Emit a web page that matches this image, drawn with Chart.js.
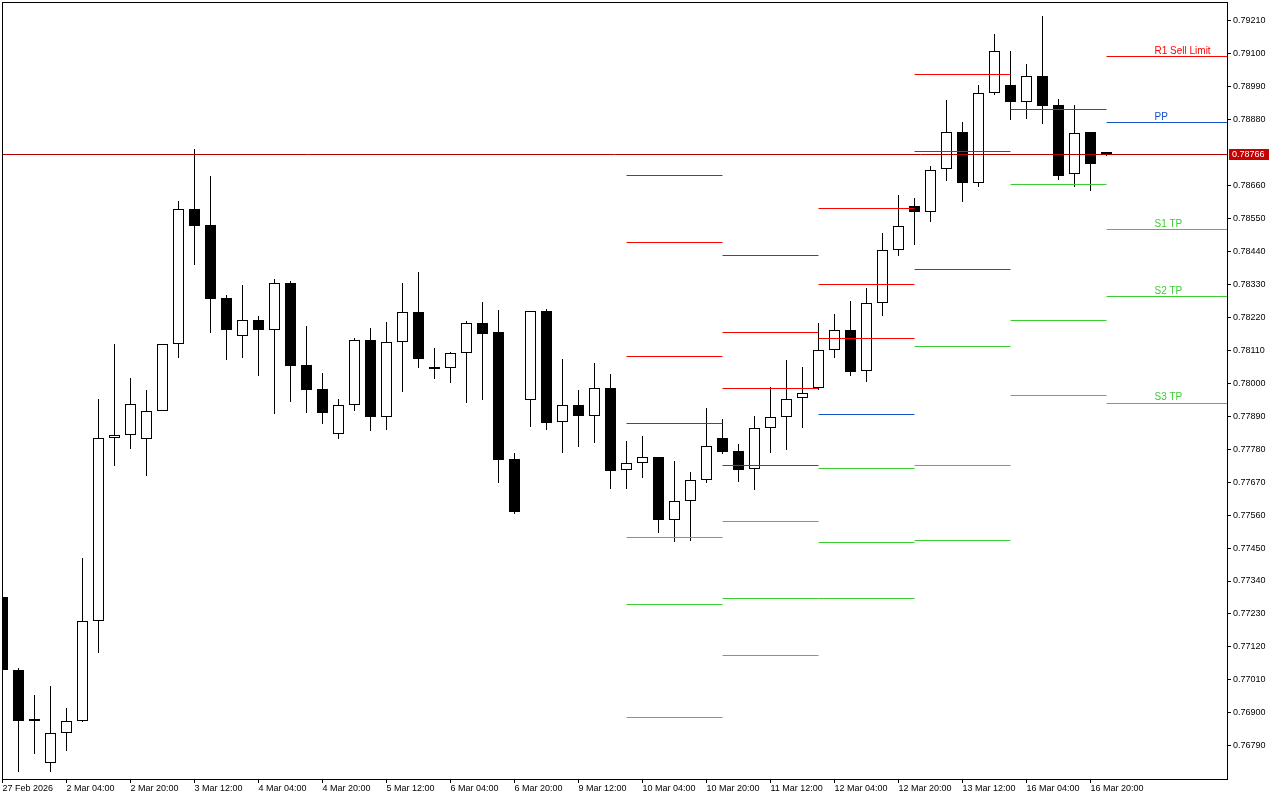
<!DOCTYPE html>
<html>
<head>
<meta charset="utf-8">
<title>H4 chart</title>
<style>
  html, body { margin: 0; padding: 0; background: #fff; overflow: hidden; }
  #wrap { width: 1280px; height: 800px; position: relative; }
</style>
</head>
<body>
<div id="wrap"><canvas id="myChart"></canvas></div>
<script src="https://cdn.jsdelivr.net/npm/chart.js@4.4.1/dist/chart.umd.min.js"></script>
<script>
// setup 
const opens  = [0.77285,0.77044,0.76874,0.76731,0.76834,0.76874,0.77208,0.77818,0.77826,0.77813,
                0.77909,0.78130,0.78580,0.78527,0.78285,0.78159,0.78210,0.78179,0.78336,0.78061,
                0.77981,0.77830,0.77926,0.78143,0.77888,0.78137,0.78237,0.78050,0.78050,0.78100,
                0.78200,0.78170,0.77746,0.77945,0.78240,0.77870,0.77926,0.77890,0.77983,0.77710,
                0.77733,0.77753,0.77545,0.77606,0.77676,0.77816,0.77773,0.77713,0.77850,0.77886,
                0.77950,0.77983,0.78110,0.78177,0.78040,0.78267,0.78444,0.78592,0.78571,0.78714,
                0.78838,0.78669,0.78968,0.78994,0.78940,0.79024,0.78928,0.78697,0.78838,0.78768];
const highs  = [0.77290,0.77048,0.76959,0.76988,0.76915,0.77416,0.77946,0.78130,0.78017,0.77978,
                0.78132,0.78607,0.78781,0.78691,0.78296,0.78328,0.78226,0.78347,0.78341,0.78190,
                0.78034,0.77947,0.78151,0.78184,0.78204,0.78335,0.78371,0.78118,0.78104,0.78208,
                0.78271,0.78244,0.77766,0.78242,0.78247,0.78081,0.77978,0.78068,0.78031,0.77806,
                0.77824,0.77755,0.77741,0.77703,0.77916,0.77880,0.77796,0.77890,0.77987,0.78078,
                0.78054,0.78201,0.78231,0.78275,0.78318,0.78501,0.78628,0.78618,0.78725,0.78945,
                0.78872,0.78994,0.79166,0.79109,0.79066,0.79226,0.78949,0.78929,0.78840,0.78771];
const lows   = [0.77040,0.76703,0.76764,0.76703,0.76772,0.76870,0.77100,0.77724,0.77781,0.77692,
                0.77907,0.78085,0.78396,0.78168,0.78078,0.78085,0.78025,0.77898,0.77938,0.77901,
                0.77865,0.77815,0.77908,0.77842,0.77845,0.77972,0.78052,0.78015,0.78002,0.77935,
                0.77945,0.77668,0.77565,0.77855,0.77845,0.77768,0.77788,0.77802,0.77646,0.77648,
                0.77685,0.77501,0.77471,0.77475,0.77668,0.77765,0.77672,0.77645,0.77768,0.77778,
                0.77852,0.77977,0.78085,0.78025,0.78005,0.78226,0.78426,0.78461,0.78539,0.78676,
                0.78606,0.78656,0.78962,0.78880,0.78883,0.78866,0.78679,0.78656,0.78643,0.78760];
const closes = [0.77044,0.76874,0.76874,0.76834,0.76874,0.77205,0.77818,0.77826,0.77932,0.77906,
                0.78130,0.78582,0.78525,0.78281,0.78179,0.78210,0.78179,0.78336,0.78058,0.77979,
                0.77902,0.77926,0.78143,0.77888,0.78137,0.78237,0.78082,0.78048,0.78100,0.78200,
                0.78165,0.77745,0.77571,0.78240,0.77868,0.77926,0.77892,0.77983,0.77706,0.77733,
                0.77753,0.77545,0.77606,0.77676,0.77790,0.77772,0.77712,0.77850,0.77886,0.77946,
                0.77966,0.78110,0.78177,0.78039,0.78267,0.78444,0.78524,0.78573,0.78711,0.78838,
                0.78669,0.78968,0.79108,0.78940,0.79024,0.78926,0.78693,0.78834,0.78733,0.78766];

// time axis: one label every 4 bars (H4)
const tickLabels = ['27 Feb 2026','2 Mar 04:00','2 Mar 20:00','3 Mar 12:00','4 Mar 04:00','4 Mar 20:00',
                    '5 Mar 12:00','6 Mar 04:00','6 Mar 20:00','9 Mar 12:00','10 Mar 04:00','10 Mar 20:00',
                    '11 Mar 12:00','12 Mar 04:00','12 Mar 20:00','13 Mar 12:00','16 Mar 04:00','16 Mar 20:00'];
const tickStep = 4;
const priceTicks = [0.79210,0.79100,0.78990,0.78880,0.78660,0.78550,0.78440,0.78330,0.78220,0.78110,
                    0.78000,0.77890,0.77780,0.77670,0.77560,0.77450,0.77340,0.77230,0.77120,0.77010,
                    0.76900,0.76790];

// daily pivots (first bar of each day)
const dayStarts = [39, 45, 51, 57, 63, 69];
const pivotR3 = [0.78692, 0.78425, 0.78582, null,    null,    null];
const pivotR2 = [0.78471, 0.78171, 0.78331, 0.79029, null,    null];
const pivotR1 = [0.78088, 0.77981, 0.78151, 0.78775, null,    0.79089];
const pivotPP = [0.77867, 0.77727, 0.77897, 0.78378, 0.78912, 0.78869];
const pivotS1 = [0.77484, 0.77537, 0.77717, 0.78124, 0.78662, 0.78512];
const pivotS2 = [0.77263, 0.77283, 0.77467, 0.77727, 0.78211, 0.78288];
const pivotS3 = [0.76883, 0.77093, 0.77283, 0.77474, 0.77958, 0.77934];
const levelNames  = ['R3', 'R2', 'R1 Sell Limit', 'PP', 'S1 TP', 'S2 TP', 'S3 TP'];
const levelColors = ['#FF0000', '#FF0000', '#FF0000', '#1450C8', '#3CCD32', '#3CCD32', '#3CCD32'];
const pivotLevels = [pivotR3, pivotR2, pivotR1, pivotPP, pivotS1, pivotS2, pivotS3];

// visible window
const X_MIN = -0.03125, X_MAX = 76.53125;
const Y_MIN = 0.766792, Y_MAX = 0.792724;

Chart.defaults.font.family = '"Liberation Sans", Arial, sans-serif';
Chart.defaults.font.size = 9;
Chart.defaults.color = '#000';

function pivotPoints(levels) {
  const pts = [];
  levels.forEach((v, d) => {
    if (v === null) return;
    const end = d + 1 < dayStarts.length ? dayStarts[d + 1] : X_MAX;
    pts.push({x: dayStarts[d], y: v}, {x: end, y: v}, {x: end, y: null});
  });
  return pts;
}

const bars = opens.map((o, i) => i);

const data = {
  datasets: [
    ...pivotLevels.map((lv, k) => ({
      type: 'line',
      data: pivotPoints(lv),
      borderColor: levelColors[k],
      borderWidth: 1,
      pointRadius: 0,
      spanGaps: false,
      order: -1
    })),
    {
      type: 'bar',
      data: bars.map(i => ({x: i, y: [opens[i], closes[i]]})),
      backgroundColor: bars.map(i => closes[i] >= opens[i] ? '#FFFFFF' : '#000000'),
      borderColor: '#000000',
      borderWidth: 1,
      borderSkipped: false,
      inflateAmount: 0,
      barThickness: 11,
      minBarLength: 2,
      grouped: false,
      order: 0
    },
    {
      type: 'bar',
      data: bars.map(i => ({x: i, y: [lows[i], highs[i]]})),
      backgroundColor: '#000000',
      borderWidth: 0,
      inflateAmount: 0,
      barThickness: 1,
      grouped: false,
      order: 1
    }
  ]
};

// snap lines and bar edges to whole pixels so they stay crisp like the terminal
const pixelSnap = {
  id: 'pixelSnap',
  beforeDatasetDraw(chart, args) {
    const meta = args.meta;
    if (meta.type === 'line') {
      meta.data.forEach(p => { if (!p.skip) p.y = Math.round(p.y - 0.5) + 0.5; });
    } else if (meta.type === 'bar') {
      meta.data.forEach(b => {
        const top = Math.round(Math.min(b.y, b.base));
        let bottom = Math.round(Math.max(b.y, b.base));
        if (bottom - top < 1) bottom = top + 1;
        b.y = top;
        b.base = bottom;
      });
    }
  }
};

// frame, last price line, pivot captions and price tag
const chartDecor = {
  id: 'chartDecor',
  afterDatasetsDraw(chart) {
    const {ctx, chartArea: a, scales: {x, y}} = chart;
    const last = closes[closes.length - 1];
    const py = Math.round(y.getPixelForValue(last)) + 0.5;
    ctx.save();
    ctx.lineWidth = 1;
    ctx.strokeStyle = '#B40000';
    ctx.beginPath();
    ctx.moveTo(a.left, py);
    ctx.lineTo(a.right, py);
    ctx.stroke();

    const d = dayStarts.length - 1;
    ctx.font = '10px "Liberation Sans", Arial, sans-serif';
    ctx.textAlign = 'left';
    ctx.textBaseline = 'alphabetic';
    pivotLevels.forEach((lv, k) => {
      const v = lv[d];
      if (v === null) return;
      ctx.fillStyle = levelColors[k];
      ctx.fillText(levelNames[k], x.getPixelForValue(dayStarts[d] + 3), Math.round(y.getPixelForValue(v)) - 3);
    });

    ctx.strokeStyle = '#000';
    ctx.strokeRect(a.left + 0.5, a.top + 0.5, a.right - a.left, a.bottom - a.top);
    ctx.restore();
  },
  afterDraw(chart) {
    const {ctx, chartArea: a, scales: {y}} = chart;
    const last = closes[closes.length - 1];
    const py = Math.round(y.getPixelForValue(last));
    ctx.save();
    ctx.fillStyle = '#C40000';
    ctx.fillRect(a.right + 2, py - 5, 40, 11);
    ctx.fillStyle = '#FFFFFF';
    ctx.font = '9px "Liberation Sans", Arial, sans-serif';
    ctx.textAlign = 'left';
    ctx.textBaseline = 'middle';
    ctx.fillText(last.toFixed(5), a.right + 5, py + 0.5);
    ctx.restore();
  }
};

// config 
const config = {
  type: 'bar',
  data,
  options: {
    responsive: true,
    maintainAspectRatio: false,
    animation: false,
    events: [],
    layout: { padding: { left: 2, top: 2, right: 0, bottom: 0 } },
    plugins: { legend: { display: false }, tooltip: { enabled: false } },
    scales: {
      x: {
        type: 'linear',
        min: X_MIN,
        max: X_MAX,
        offset: false,
        afterBuildTicks: s => { s.ticks = tickLabels.map((t, k) => ({value: k * tickStep})); },
        afterFit: s => { s.height = 21; s.paddingLeft = 0; s.paddingRight = 0; },
        grid: { drawOnChartArea: false, offset: false, tickLength: 4, color: '#000' },
        border: { display: false },
        ticks: {
          align: 'start',
          padding: 0,
          maxRotation: 0,
          autoSkip: false,
          callback: (v, k) => tickLabels[k]
        }
      },
      y: {
        position: 'right',
        min: Y_MIN,
        max: Y_MAX,
        beginAtZero: false,
        afterBuildTicks: s => { s.ticks = priceTicks.map(v => ({value: v})); },
        afterFit: s => { s.width = 53; s.paddingTop = 0; s.paddingBottom = 0; },
        grid: { drawOnChartArea: false, tickLength: 4, color: '#000' },
        border: { display: false },
        ticks: {
          padding: 2,
          autoSkip: false,
          callback: v => v.toFixed(5)
        }
      }
    }
  },
  plugins: [pixelSnap, chartDecor]
};

// render init block
const myChart = new Chart(
  document.getElementById('myChart'),
  config
);
</script>
</body>
</html>
